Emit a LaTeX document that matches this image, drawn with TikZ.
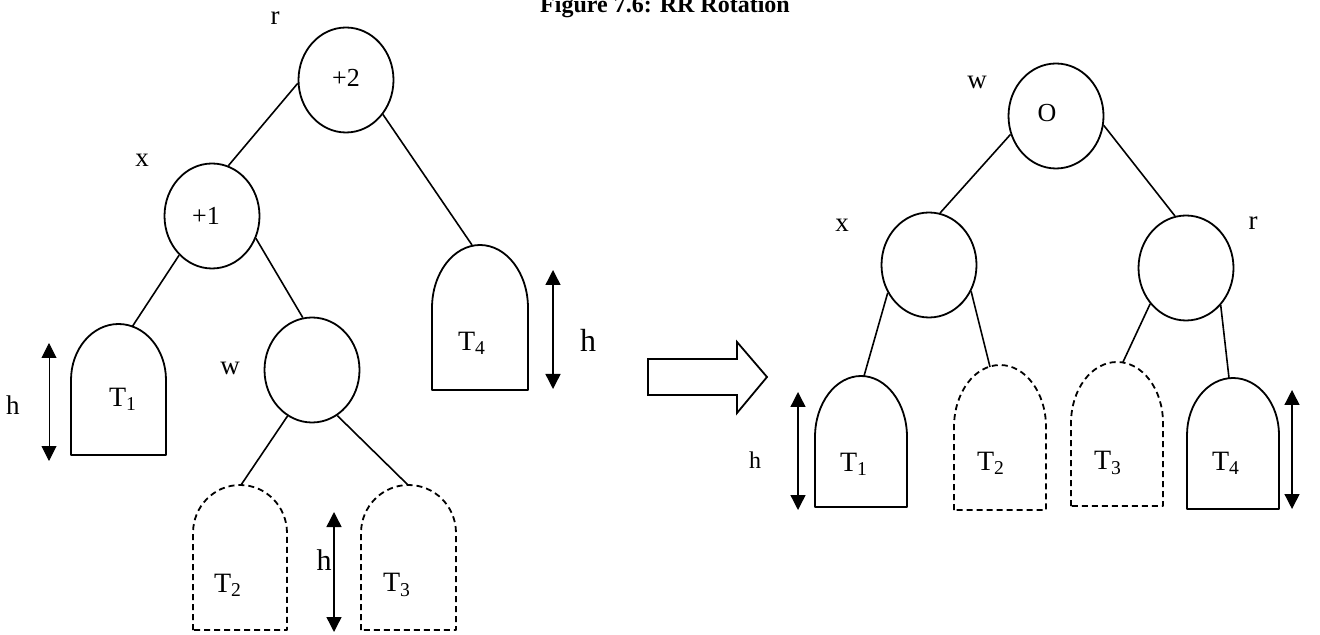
\documentclass[tikz,border=0pt]{standalone}
\usepackage{fontspec}
\setmainfont{Liberation Serif}
\usetikzlibrary{shapes.geometric,arrows.meta}
\tikzset{
  avl/.style={ellipse, draw, line width=0.9pt, minimum width=47.5pt, minimum height=52.5pt, inner sep=0pt, font=\fontsize{13}{15}\selectfont},
  lbl/.style={font=\fontsize{13.5}{16}\selectfont, inner sep=0pt},
  sub/.style={line width=0.9pt, line join=round},
  dashedtree/.style={sub, dash pattern=on 3pt off 2pt},
  link/.style={line width=0.8pt},
  harrow/.style={line width=0.7pt, {Triangle[width=7.5pt,length=7.5pt]}-{Triangle[width=7.5pt,length=7.5pt]}}
}
% subtree: [style]{left}{width}{top}{dome}{bottom}
\newcommand{\subtree}[6][sub]{\draw[#1] (#2,#6) -- (#2,#4+#5) arc[start angle=180, end angle=360, x radius=#3/2, y radius=#5] -- (#2+#3,#6) -- cycle;}
\begin{document}
\begin{tikzpicture}[x=0.5pt, y=-0.5pt]
\useasboundingbox (0,0) rectangle (1320,635);
\node[lbl, font=\fontsize{12}{14}\selectfont\bfseries, anchor=base] (title) at (665,13) {Figure 7.6: RR Rotation};

% before: left tree
\node[avl] (rl) at (346,80) {\raisebox{2pt}{+2}};
\node[avl] (xl) at (212,216) {\hspace*{-6pt}+1};
\node[avl] (wl) at (312,370) {};
\node[lbl] (rlab) at (275,18) {r};
\node[lbl] (xlab) at (142,160) {x};
\node[lbl] (wlab) at (230,368) {w};

\subtree{71}{95}{324}{56}{455}
\subtree{432}{96}{245}{63}{390}
\subtree[dashedtree]{193}{94}{485}{48}{630}
\subtree[dashedtree]{361}{95}{485}{48}{630}
\node[lbl, font=\fontsize{14}{16}\selectfont] (t1ltext) at (123,399) {T\textsubscript{1}};
\node[lbl, font=\fontsize{14}{16}\selectfont] (t4ltext) at (472,343) {T\textsubscript{4}};
\node[lbl, font=\fontsize{14}{16}\selectfont] (t2ltext) at (228,585) {T\textsubscript{2}};
\node[lbl, font=\fontsize{14}{16}\selectfont] (t3ltext) at (397,585) {T\textsubscript{3}};
\coordinate (t1l) at (132,327);
\coordinate (t4l) at (472,245);
\coordinate (t2l) at (241,485);
\coordinate (t3l) at (408,485);

% edges
\draw[link] (rl.184) -- (xl.72); % r to x
\draw[link] (rl.-43) -- (t4l); % r to T4
\draw[link] (xl.-130) -- (t1l); % x to T1
\draw[link] (xl.-27) -- (wl.100); % x to w
\draw[link] (wl.-118) -- (t2l); % w to T2
\draw[link] (wl.-61) -- (t3l); % w to T3

% heights
\draw[harrow, line width=0.5pt] (49,343) -- (49,461);
\draw[harrow] (334,512) -- (334,632);
\draw[harrow] (553,270) -- (553,389);
\node[lbl] (h1) at (13,405) {h};
\node[lbl, font=\fontsize{15}{17}\selectfont] (h2) at (324,560) {h};
\node[lbl, font=\fontsize{16}{18}\selectfont] (h3) at (588,340) {h};

% rotation arrow
\draw[sub, line join=miter] (648,359) -- (737,359) -- (737,342) -- (767,377) -- (737,413) -- (737,395) -- (648,395) -- cycle;

% after: right tree
\node[avl] (wr) at (1056,116) {\hspace*{-9pt}\raisebox{3pt}{O}};
\node[avl] (xr) at (929,265) {};
\node[avl] (rr) at (1186,268) {};
\node[lbl] (wrlab) at (977,82) {w};
\node[lbl] (xrlab) at (842,225) {x};
\node[lbl] (rrlab) at (1253,223) {r};

\subtree{815}{92}{376}{61}{507}
\subtree[dashedtree]{954}{92}{365}{62}{510}
\subtree[dashedtree]{1071}{92}{362}{61}{506}
\subtree{1187}{92}{378}{57}{509}
\node[lbl, font=\fontsize{14}{16}\selectfont] (t1rtext) at (854,464) {T\textsubscript{1}};
\node[lbl, font=\fontsize{14}{16}\selectfont] (t2rtext) at (991,463) {T\textsubscript{2}};
\node[lbl, font=\fontsize{14}{16}\selectfont] (t3rtext) at (1108,463) {T\textsubscript{3}};
\node[lbl, font=\fontsize{14}{16}\selectfont] (t4rtext) at (1226,463) {T\textsubscript{4}};
\coordinate (t1r) at (864,376);
\coordinate (t2r) at (990,367);
\coordinate (t3r) at (1123,362);
\coordinate (t4r) at (1229,378);

% edges
\draw[link] (wr.-158) -- (xr.78); % w to x
\draw[link] (wr.-11) -- (rr.102); % w to r
\draw[link] (xr.-146) -- (t1r); % x to T1
\draw[link] (xr.-32) -- (t2r); % x to T2
\draw[link] (rr.-135) -- (t3r); % r to T3
\draw[link] (rr.-47) -- (t4r); % r to T4

% heights
\draw[harrow] (798,392) -- (798,510);
\draw[harrow] (1292,390) -- (1292,509);
\node[lbl, font=\fontsize{12}{14}\selectfont] (h4) at (755,460) {h};
\end{tikzpicture}
\end{document}
